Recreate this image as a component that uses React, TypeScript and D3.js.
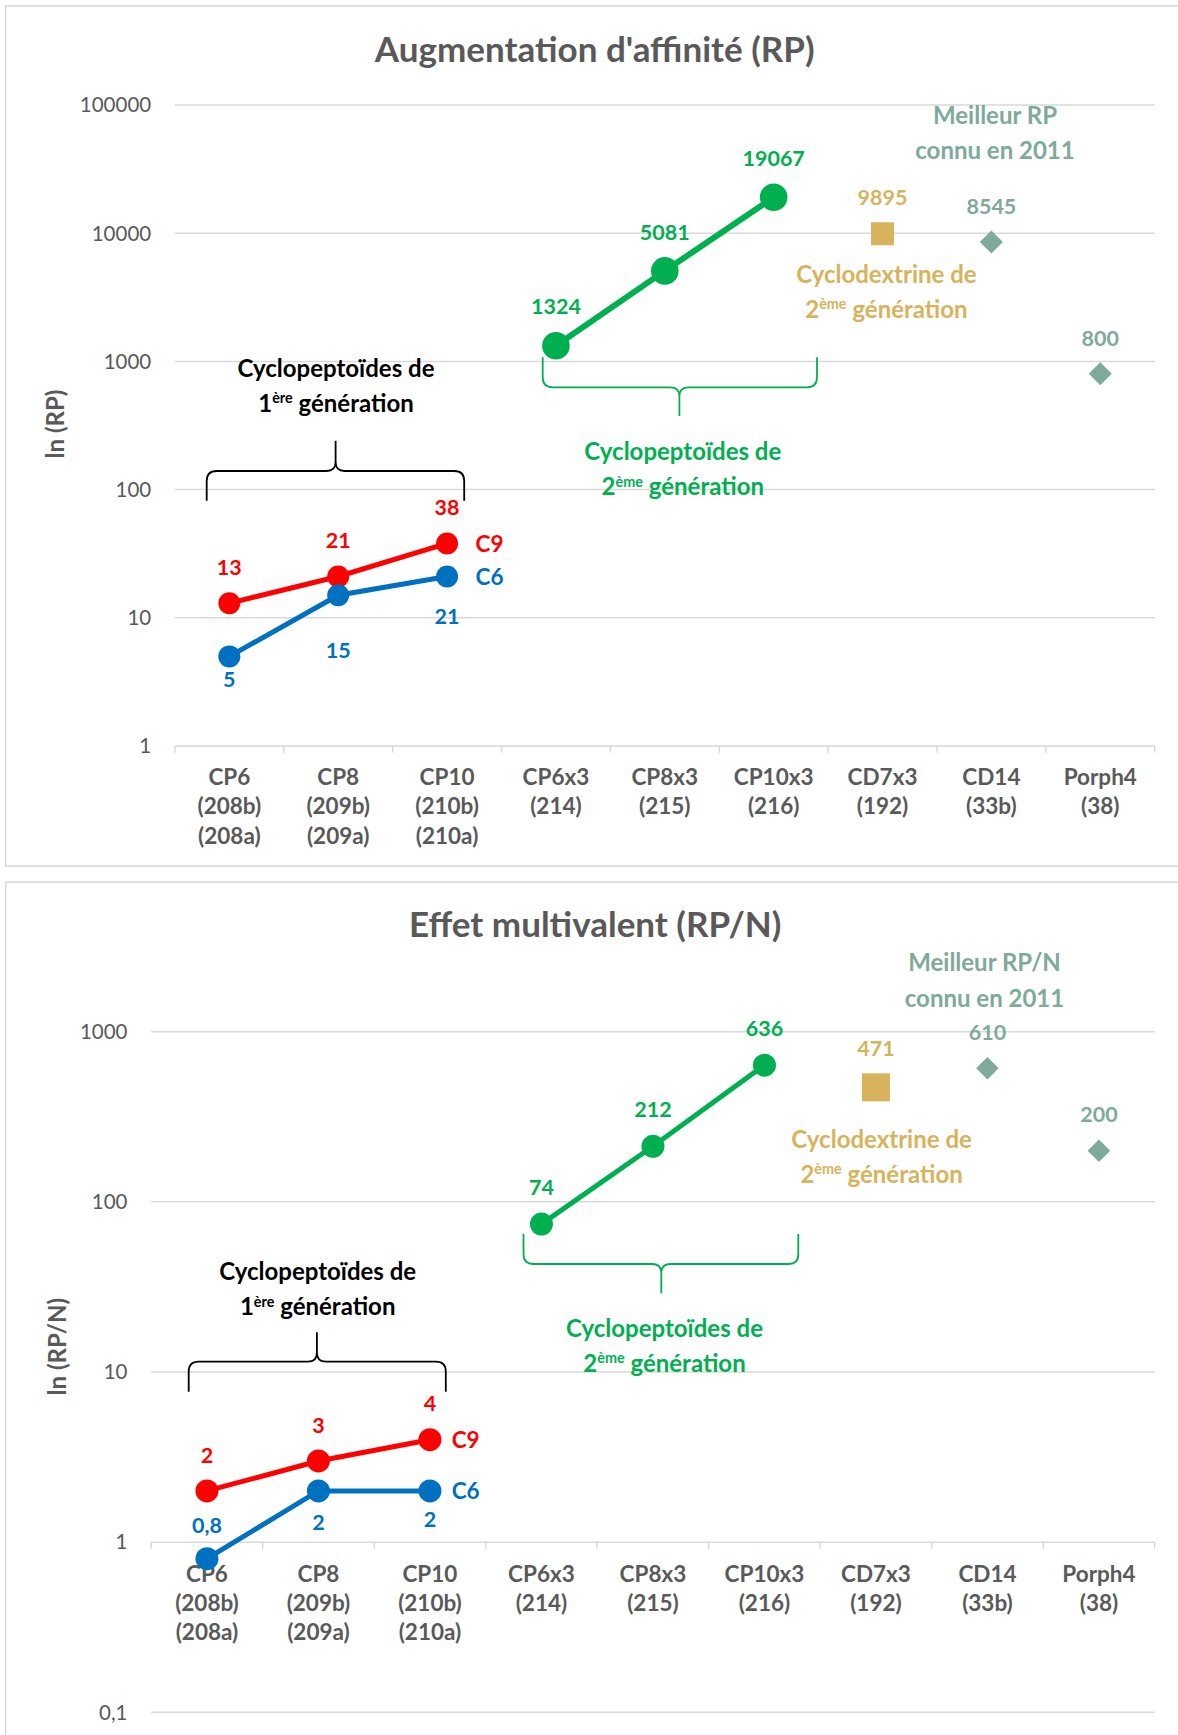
import React from 'react';
import * as d3 from 'd3';

// ---------- DATA ----------
const categories = ['CP6', 'CP8', 'CP10', 'CP6x3', 'CP8x3', 'CP10x3', 'CD7x3', 'CD14', 'Porph4'];
const categoryLines = [
  ['CP6', '(208b)', '(208a)'],
  ['CP8', '(209b)', '(209a)'],
  ['CP10', '(210b)', '(210a)'],
  ['CP6x3', '(214)'],
  ['CP8x3', '(215)'],
  ['CP10x3', '(216)'],
  ['CD7x3', '(192)'],
  ['CD14', '(33b)'],
  ['Porph4', '(38)'],
];
const gen1Cats = ['CP6', 'CP8', 'CP10'];
const gen2Cats = ['CP6x3', 'CP8x3', 'CP10x3'];
const cdCats = ['CD7x3'];
const bestCats = ['CD14', 'Porph4'];

// Chart 1 : RP
const rpC9 = [13, 21, 38];
const rpC6 = [5, 15, 21];
const rpGen2 = [1324, 5081, 19067];
const rpCD = [9895];
const rpBest = [8545, 800];
const rpTicks = [1, 10, 100, 1000, 10000, 100000];

// Chart 2 : RP/N
const rpnC9 = [2, 3, 4];
const rpnC6 = [0.8, 2, 2];
const rpnGen2 = [74, 212, 636];
const rpnCD = [471];
const rpnBest = [610, 200];
const rpnTicks = [0.1, 1, 10, 100, 1000];

// ---------- STYLE ----------
const FONT = "Lato, 'Open Sans', 'DejaVu Sans', sans-serif";
const RED = '#ff0000';
const BLUE = '#0070c0';
const GREEN = '#00b050';
const GOLD = '#d6b35c';
const TEAL = '#7ea99b';
const GREY = '#595959';
const GRID = '#d9d9d9';

const FS_TITLE = 35;
const FS_YTITLE = 24;
const FS_TICK = 20.5;
const FS_CAT = 22.5;
const FS_LAB = 21.5;
const FS_NAME = 22.5;
const FS_ANN = 24;

const fmt = (v: number) => String(v).replace('.', ',');
const CAP = 0.358;

const charts = [
  {
    key: 'rp',
    title: "Augmentation d'affinité (RP)",
    yTitle: 'ln (RP)',
    box: { x: 5.7, y: 6, h: 860 },
    titleX: 594.7, titleY: 61.7,
    yTitleX: 55, yTitleY: 424,
    xRange: [174.9, 1154.7],
    yDomain: [1, 100000], yRange: [746, 105],
    ticks: rpTicks,
    catY: 776.7, catLH: 29.6,
    c9: rpC9, c6: rpC6, gen2: rpGen2, cd: rpCD, best: rpBest,
    c6Dy: [23, 55, 40],
    dy: { red: -36, green: -39, gold: -36.5, teal: -36 },
    rSmall: 11, rGreen: 13.8, sq: 23, dia: 23, lwSmall: 5, lwGreen: 6,
    bestTitle: ['Meilleur RP', 'connu en 2011'], bestPos: { x: 995, y: [115, 150.7] },
    cdPos: { x: 886.4, y: [274, 309.3] },
    gen1Pos: { x: 336, y: [368.3, 403.3] },
    gen2Pos: { x: 682.8, y: [451.7, 486.7] },
    brace1: { x0: 206.7, x1: 464.2, xm: 335.6, yEnd: 500.7, yH: 471, yTip: 440.7 },
    brace2: { x0: 542.7, x1: 817, xm: 679.4, yEnd: 357.3, yH: 387.3, yTip: 416 },
    nameDx: 28.5,
  },
  {
    key: 'rpn',
    title: 'Effet multivalent (RP/N)',
    yTitle: 'ln (RP/N)',
    box: { x: 5.7, y: 882, h: 900 },
    titleX: 595.2, titleY: 937.3,
    yTitleX: 57, yTitleY: 1346.7,
    xRange: [151.2, 1154.7],
    yDomain: [0.1, 1000], yRange: [1712.3, 1031.7],
    ticks: rpnTicks,
    catY: 1574.3, catLH: 28.7,
    c9: rpnC9, c6: rpnC6, gen2: rpnGen2, cd: rpnCD, best: rpnBest,
    c6Dy: [-33, 31, 28],
    dy: { red: -36, green: -37, gold: -38.6, teal: -36 },
    rSmall: 11.5, rGreen: 11.5, sq: 28, dia: 22.5, lwSmall: 5, lwGreen: 5,
    bestTitle: ['Meilleur RP/N', 'connu en 2011'], bestPos: { x: 984.5, y: [962.7, 998.3] },
    cdPos: { x: 881.6, y: [1139.3, 1174] },
    gen1Pos: { x: 317.7, y: [1271.7, 1306.7] },
    gen2Pos: { x: 664.5, y: [1328.3, 1363.3] },
    brace1: { x0: 188.7, x1: 445.8, xm: 316.9, yEnd: 1391.7, yH: 1361.7, yTip: 1332.3 },
    brace2: { x0: 523.5, x1: 798.3, xm: 661.3, yEnd: 1234, yH: 1264, yTip: 1293.3 },
    nameDx: 21.7,
  },
];

function bracePath(b: any, r = 10, rm = 9) {
  const { x0, x1, xm, yEnd, yH, yTip } = b;
  const s = Math.sign(yEnd - yH);
  const t = Math.sign(yTip - yH);
  return [
    `M${x0},${yEnd}`,
    `L${x0},${yH + s * r}`,
    `Q${x0},${yH} ${x0 + r},${yH}`,
    `L${xm - rm},${yH}`,
    `Q${xm},${yH} ${xm},${yH + t * rm}`,
    `L${xm},${yTip}`,
    `M${xm},${yH + t * rm}`,
    `Q${xm},${yH} ${xm + rm},${yH}`,
    `L${x1 - r},${yH}`,
    `Q${x1},${yH} ${x1},${yH + s * r}`,
    `L${x1},${yEnd}`,
  ].join(' ');
}

function SupLines({ x, ys, lines, sup, fill, fs }: any) {
  return (
    <g fontFamily={FONT} fontWeight={700} fill={fill} textAnchor="middle">
      <text x={x} y={ys[0] + CAP * fs} fontSize={fs}>{lines[0]}</text>
      <text x={x} y={ys[1] + CAP * fs} fontSize={fs}>
        <tspan>{sup[0]}</tspan>
        <tspan fontSize={fs * 0.6} dy={-fs * 0.36}>{sup[1]}</tspan>
        <tspan dy={fs * 0.36}>{' ' + sup[2]}</tspan>
      </text>
    </g>
  );
}

function Chart({ c }: { c: any }) {
  const x = d3.scaleBand().domain(categories).range(c.xRange).padding(0);
  const xc = (k: string) => (x(k) as number) + x.bandwidth() / 2;
  const y = d3.scaleLog().domain(c.yDomain).range(c.yRange);
  const axisY = y(1);
  const line = d3.line<[number, number]>().x((d) => d[0]).y((d) => d[1]);

  const red = gen1Cats.map((k, i) => [xc(k), y(c.c9[i])] as [number, number]);
  const blue = gen1Cats.map((k, i) => [xc(k), y(c.c6[i])] as [number, number]);
  const green = gen2Cats.map((k, i) => [xc(k), y(c.gen2[i])] as [number, number]);
  const gold = cdCats.map((k, i) => [xc(k), y(c.cd[i])] as [number, number]);
  const teal = bestCats.map((k, i) => [xc(k), y(c.best[i])] as [number, number]);

  const boundaries = categories.map((k) => x(k) as number).concat([c.xRange[1]]);

  return (
    <g>
      <rect x={c.box.x} y={c.box.y} width={1300} height={c.box.h} fill="#fff" stroke={GRID} strokeWidth={1.5} />
      <text x={c.titleX} y={c.titleY} textAnchor="middle" fontFamily={FONT} fontWeight={700} fontSize={FS_TITLE} fill={GREY}>{c.title}</text>
      <text transform={`translate(${c.yTitleX + CAP * FS_YTITLE},${c.yTitleY}) rotate(-90)`} textAnchor="middle" fontFamily={FONT} fontWeight={700} fontSize={FS_YTITLE} fill={GREY}>{c.yTitle}</text>

      {c.ticks.map((t: number) => (
        <g key={t}>
          <line x1={c.xRange[0]} x2={c.xRange[1]} y1={y(t)} y2={y(t)} stroke={GRID} strokeWidth={1.5} />
          <text x={c.xRange[0] - 23.7} y={y(t) + CAP * FS_TICK} textAnchor="end" fontFamily={FONT} fontSize={FS_TICK} fill={GREY}>{fmt(t)}</text>
        </g>
      ))}
      {boundaries.map((bx: number, i: number) => (
        <line key={i} x1={bx} x2={bx} y1={axisY} y2={axisY + 6.7} stroke={GRID} strokeWidth={1.5} />
      ))}
      {categories.map((k, i) => (
        <text key={k} textAnchor="middle" fontFamily={FONT} fontWeight={700} fontSize={FS_CAT} fill={GREY}>
          {categoryLines[i].map((l, j) => (
            <tspan key={j} x={xc(k)} y={c.catY + j * c.catLH + CAP * FS_CAT}>{l}</tspan>
          ))}
        </text>
      ))}

      <path d={bracePath(c.brace1)} fill="none" stroke="#000" strokeWidth={1.8} />
      <path d={bracePath(c.brace2)} fill="none" stroke={GREEN} strokeWidth={1.8} />

      <SupLines x={c.gen1Pos.x} ys={c.gen1Pos.y} lines={['Cyclopeptoïdes de']} sup={['1', 'ère', 'génération']} fill="#000" fs={FS_ANN} />
      <SupLines x={c.gen2Pos.x} ys={c.gen2Pos.y} lines={['Cyclopeptoïdes de']} sup={['2', 'ème', 'génération']} fill={GREEN} fs={FS_ANN} />
      <SupLines x={c.cdPos.x} ys={c.cdPos.y} lines={['Cyclodextrine de']} sup={['2', 'ème', 'génération']} fill={GOLD} fs={FS_ANN} />
      <g fontFamily={FONT} fontWeight={700} fill={TEAL} textAnchor="middle" fontSize={FS_ANN}>
        {c.bestTitle.map((t: string, i: number) => (
          <text key={i} x={c.bestPos.x} y={c.bestPos.y[i] + CAP * FS_ANN}>{t}</text>
        ))}
      </g>

      <path d={line(red) as string} fill="none" stroke={RED} strokeWidth={c.lwSmall} />
      <path d={line(blue) as string} fill="none" stroke={BLUE} strokeWidth={c.lwSmall} />
      <path d={line(green) as string} fill="none" stroke={GREEN} strokeWidth={c.lwGreen} />

      {red.map((p, i) => <circle key={'r' + i} cx={p[0]} cy={p[1]} r={c.rSmall} fill={RED} />)}
      {blue.map((p, i) => <circle key={'b' + i} cx={p[0]} cy={p[1]} r={c.rSmall} fill={BLUE} />)}
      {green.map((p, i) => <circle key={'g' + i} cx={p[0]} cy={p[1]} r={c.rGreen} fill={GREEN} />)}
      {gold.map((p, i) => <rect key={'s' + i} x={p[0] - c.sq / 2} y={p[1] - c.sq / 2} width={c.sq} height={c.sq} fill={GOLD} />)}
      {teal.map((p, i) => (
        <path key={'d' + i} d={`M${p[0]},${p[1] - c.dia / 2} L${p[0] + c.dia / 2},${p[1]} L${p[0]},${p[1] + c.dia / 2} L${p[0] - c.dia / 2},${p[1]} Z`} fill={TEAL} />
      ))}

      <g fontFamily={FONT} fontWeight={700} fontSize={FS_LAB} textAnchor="middle">
        {red.map((p, i) => <text key={'rl' + i} x={p[0]} y={p[1] + c.dy.red + CAP * FS_LAB} fill={RED}>{fmt(c.c9[i])}</text>)}
        {blue.map((p, i) => <text key={'bl' + i} x={p[0]} y={p[1] + c.c6Dy[i] + CAP * FS_LAB} fill={BLUE}>{fmt(c.c6[i])}</text>)}
        {green.map((p, i) => <text key={'gl' + i} x={p[0]} y={p[1] + c.dy.green + CAP * FS_LAB} fill={GREEN}>{fmt(c.gen2[i])}</text>)}
        {gold.map((p, i) => <text key={'sl' + i} x={p[0]} y={p[1] + c.dy.gold + CAP * FS_LAB} fill={GOLD}>{fmt(c.cd[i])}</text>)}
        {teal.map((p, i) => <text key={'tl' + i} x={p[0]} y={p[1] + c.dy.teal + CAP * FS_LAB} fill={TEAL}>{fmt(c.best[i])}</text>)}
      </g>
      <g fontFamily={FONT} fontWeight={700} fontSize={FS_NAME}>
        <text x={red[2][0] + c.nameDx} y={red[2][1] + CAP * FS_NAME} fill={RED}>C9</text>
        <text x={blue[2][0] + c.nameDx} y={blue[2][1] + CAP * FS_NAME} fill={BLUE}>C6</text>
      </g>
    </g>
  );
}

export default function App() {
  return (
    <svg width={1178} height={1735} style={{ position: 'absolute', left: 0, top: 0, background: '#fff' }}>
      <rect x={0} y={0} width={1178} height={1735} fill="#fff" />
      {charts.map((c) => <Chart key={c.key} c={c} />)}
    </svg>
  );
}
